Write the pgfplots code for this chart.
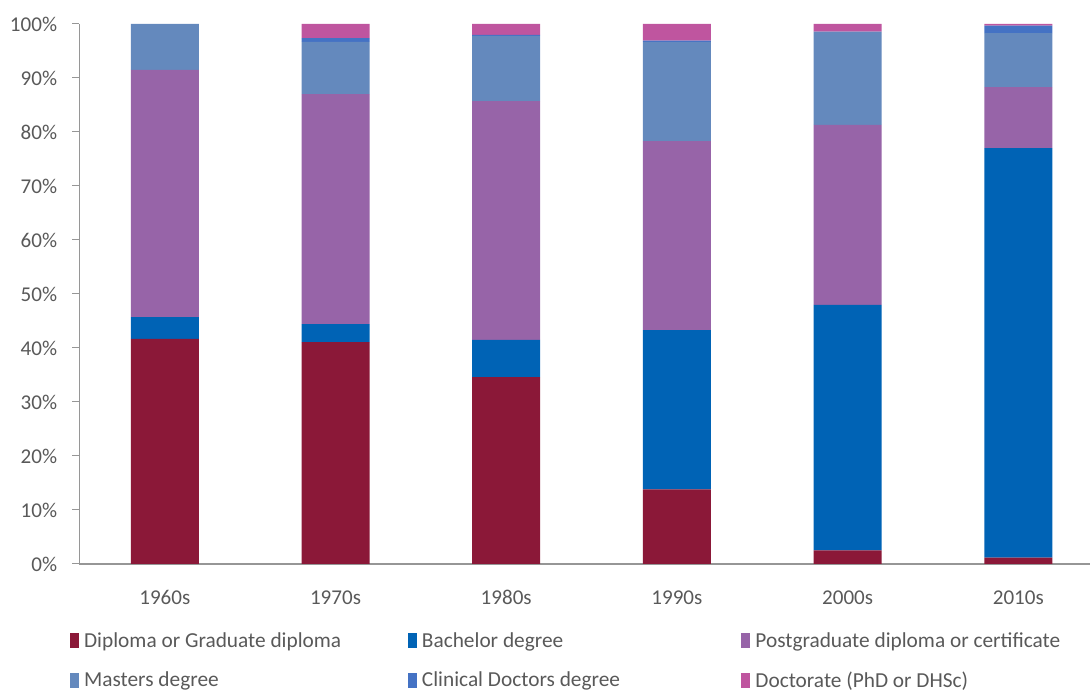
\documentclass[border=0pt]{standalone}
\usepackage{pgfplots}
\pgfplotsset{compat=1.18}
\usepackage{pgfplotstable}
\usepackage{fontspec}
\setmainfont{Carlito}
\definecolor{cDip}{RGB}{139,24,56}
\definecolor{cBac}{RGB}{0,99,181}
\definecolor{cPG}{RGB}{151,100,168}
\definecolor{cMas}{RGB}{100,137,189}
\definecolor{cCli}{RGB}{68,114,196}
\definecolor{cDoc}{RGB}{191,85,159}
\definecolor{txt}{RGB}{89,89,89}
\definecolor{axgray}{RGB}{150,150,150}
\pgfplotstableread{
x dip bac pg mas cli doc
0 41.7 4.0 45.8 8.5 0.0 0.0
1 41.1 3.3 42.6 9.7 0.7 2.6
2 34.6 6.9 44.2 12.1 0.2 2.0
3 13.8 29.5 35.0 18.4 0.2 3.1
4 2.5 45.5 33.3 17.3 0.0 1.4
5 1.2 75.8 11.3 10.0 1.4 0.3
}\datatable
\begin{document}
\begin{tikzpicture}
\useasboundingbox (0,0) rectangle (817.5pt,518.25pt);
\begin{axis}[
  at={(59.6pt,95.25pt)}, anchor=south west,
  scale only axis, width=757.9pt, height=405pt,
  ybar stacked, bar width=51pt,
  xmin=-0.5, xmax=5.42, ymin=0, ymax=100,
  xtick=data, xticklabels={1960s,1970s,1980s,1990s,2000s,2010s},
  ytick={0,10,...,100},
  yticklabel={\pgfmathprintnumber{\tick}\%},
  /pgf/number format/assume math mode=true,
  tick align=outside,
  major tick length=5.25pt,
  xtick style={draw=none},
  ytick style={draw=axgray, line width=0.75pt},
  axis lines*=left,
  y axis line style={draw=axgray, line width=0.75pt, -},
  x axis line style={draw=axgray, line width=1.5pt, -},
  ticklabel style={font=\fontsize{15.8}{19}\selectfont, text=txt},
  yticklabel style={xshift=-8pt},
  xticklabel style={yshift=-11pt},
  legend columns=3,
  legend cell align=left,
  legend style={at={(-0.0095,-0.121)}, anchor=north west, draw=none, fill=none,
    inner sep=0pt, font=\fontsize{16}{19}\selectfont, text=txt,
    /tikz/every odd column/.append style={column sep=2pt},
    /tikz/column 2/.style={column sep=48pt},
    /tikz/column 4/.style={column sep=89pt},
    row sep=13pt},
  legend image code/.code={\fill[#1,draw=none] (0pt,-5.5pt) rectangle (6.5pt,5.5pt);},
]
\addplot[fill=cDip, draw=none] table[x=x,y=dip]{\datatable};
\addplot[fill=cBac, draw=none] table[x=x,y=bac]{\datatable};
\addplot[fill=cPG, draw=none] table[x=x,y=pg]{\datatable};
\addplot[fill=cMas, draw=none] table[x=x,y=mas]{\datatable};
\addplot[fill=cCli, draw=none] table[x=x,y=cli]{\datatable};
\addplot[fill=cDoc, draw=none] table[x=x,y=doc]{\datatable};
\legend{Diploma or Graduate diploma, Bachelor degree, Postgraduate diploma or certificate, Masters degree, Clinical Doctors degree, Doctorate (PhD or DHSc)}
\end{axis}
\end{tikzpicture}
\end{document}
